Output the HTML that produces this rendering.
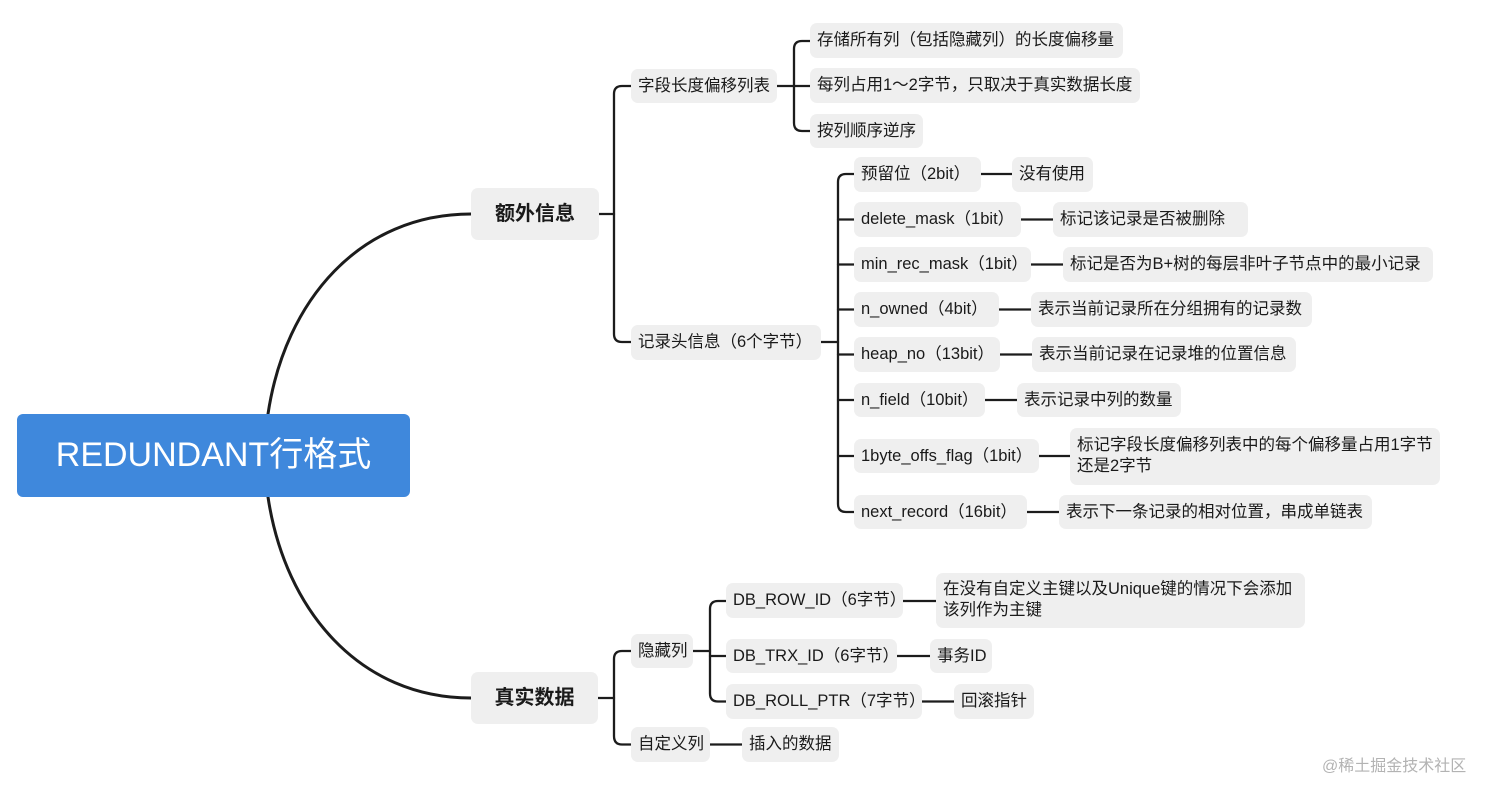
<!DOCTYPE html>
<html><head><meta charset="utf-8"><style>
html,body{margin:0;padding:0;background:#fff;}
#c{position:relative;width:1512px;height:796px;overflow:hidden;background:#fff;font-family:"Liberation Sans","Noto Sans CJK SC",sans-serif;}
svg{position:absolute;left:0;top:0;}
.n{position:absolute;background:#efefef;border-radius:7px;font-size:16.5px;line-height:35px;padding-left:7px;white-space:nowrap;color:#1a1a1a;box-sizing:border-box;}
.m{line-height:21px;padding-top:7px;}
.b{font-weight:bold;font-size:20px;text-align:center;padding-left:0;line-height:52px;}
.root{position:absolute;left:17px;top:414px;width:393px;height:83px;background:#3f88dc;border-radius:6px;color:#fff;font-size:34px;line-height:83px;text-align:center;white-space:nowrap;}
.wm{position:absolute;left:1322px;top:752px;font-size:16px;color:#b3b3b3;white-space:nowrap;font-family:"Liberation Sans","Noto Sans CJK SC",sans-serif;}
</style></head><body><div id="c">
<svg width="1512" height="796" viewBox="0 0 1512 796" fill="none" stroke="#1c1c1c" stroke-width="2.3" stroke-linecap="round">
<path d="M268,440 L268,414 C285,300 360,214 471,214" stroke-width="3"/>
<path d="M268,470 L268,497 C285,611 360,698 471,698" stroke-width="3"/>
<path d="M599,214 H614"/>
<path d="M631,86 H622 Q614,86 614,94 V334 Q614,342 622,342 H631"/>
<path d="M777,86 H810"/>
<path d="M810,41 H802 Q794,41 794,49 V123 Q794,131 802,131 H810"/>
<path d="M821,342 H838"/>
<path d="M854,174 H846 Q838,174 838,182 V504 Q838,512 846,512 H854"/>
<path d="M838,219.5 H854 M838,264.5 H854 M838,309.5 H854 M838,354.5 H854 M838,400 H854 M838,456 H854"/>
<path d="M981,174 H1012 M1021,219.5 H1053 M1031,264.5 H1063 M999,309.5 H1031 M1000,354.5 H1032 M985,400 H1017 M1039,456 H1070 M1027,512 H1059"/>
<path d="M598,698 H614"/>
<path d="M631,651 H622 Q614,651 614,659 V736 Q614,744.5 622,744.5 H631"/>
<path d="M693,651 H710"/>
<path d="M726,601 H718 Q710,601 710,609 V693.5 Q710,701.5 718,701.5 H726"/>
<path d="M710,656 H726"/>
<path d="M903,601 H936 M897,656 H930 M922,701.5 H954 M710,744.5 H742"/>
</svg>
<div class="root">REDUNDANT行格式</div>
<div class="n b" style="left:471px;top:188px;width:128px;height:52px;">额外信息</div>
<div class="n b" style="left:471px;top:672px;width:127px;height:52px;">真实数据</div>

<div class="n" style="left:631px;top:69px;width:146px;height:34px;line-height:34px;">字段长度偏移列表</div>
<div class="n" style="left:810px;top:23px;width:313px;height:35px;">存储所有列（包括隐藏列）的长度偏移量</div>
<div class="n" style="left:810px;top:68px;width:330px;height:35px;">每列占用1～2字节，只取决于真实数据长度</div>
<div class="n" style="left:810px;top:114px;width:113px;height:34px;line-height:34px;">按列顺序逆序</div>

<div class="n" style="left:631px;top:325px;width:190px;height:35px;">记录头信息（6个字节）</div>
<div class="n" style="left:854px;top:157px;width:127px;height:35px;">预留位（2bit）</div>
<div class="n" style="left:1012px;top:157px;width:81px;height:35px;">没有使用</div>
<div class="n" style="left:854px;top:202px;width:167px;height:35px;">delete_mask（1bit）</div>
<div class="n" style="left:1053px;top:202px;width:195px;height:35px;">标记该记录是否被删除</div>
<div class="n" style="left:854px;top:247px;width:177px;height:35px;">min_rec_mask（1bit）</div>
<div class="n" style="left:1063px;top:247px;width:370px;height:35px;">标记是否为B+树的每层非叶子节点中的最小记录</div>
<div class="n" style="left:854px;top:292px;width:145px;height:35px;">n_owned（4bit）</div>
<div class="n" style="left:1031px;top:292px;width:281px;height:35px;">表示当前记录所在分组拥有的记录数</div>
<div class="n" style="left:854px;top:337px;width:146px;height:35px;">heap_no（13bit）</div>
<div class="n" style="left:1032px;top:337px;width:264px;height:35px;">表示当前记录在记录堆的位置信息</div>
<div class="n" style="left:854px;top:383px;width:131px;height:34px;line-height:34px;">n_field（10bit）</div>
<div class="n" style="left:1017px;top:383px;width:164px;height:34px;line-height:34px;">表示记录中列的数量</div>
<div class="n" style="left:854px;top:439px;width:185px;height:34px;line-height:34px;">1byte_offs_flag（1bit）</div>
<div class="n m" style="left:1070px;top:428px;width:370px;height:57px;">标记字段长度偏移列表中的每个偏移量占用1字节<br>还是2字节</div>
<div class="n" style="left:854px;top:495px;width:173px;height:34px;line-height:34px;">next_record（16bit）</div>
<div class="n" style="left:1059px;top:495px;width:313px;height:34px;line-height:34px;">表示下一条记录的相对位置，串成单链表</div>

<div class="n" style="left:631px;top:634px;width:62px;height:34px;line-height:34px;">隐藏列</div>
<div class="n" style="left:726px;top:583px;width:177px;height:35px;">DB_ROW_ID（6字节）</div>
<div class="n m" style="left:936px;top:573px;width:369px;height:55px;padding-top:6px;">在没有自定义主键以及Unique键的情况下会添加<br>该列作为主键</div>
<div class="n" style="left:726px;top:639px;width:171px;height:34px;line-height:34px;">DB_TRX_ID（6字节）</div>
<div class="n" style="left:930px;top:639px;width:62px;height:34px;line-height:34px;">事务ID</div>
<div class="n" style="left:726px;top:684px;width:196px;height:35px;">DB_ROLL_PTR（7字节）</div>
<div class="n" style="left:954px;top:684px;width:80px;height:35px;">回滚指针</div>
<div class="n" style="left:631px;top:727px;width:79px;height:35px;">自定义列</div>
<div class="n" style="left:742px;top:727px;width:97px;height:35px;">插入的数据</div>

<div class="wm">@稀土掘金技术社区</div>
</div></body></html>
